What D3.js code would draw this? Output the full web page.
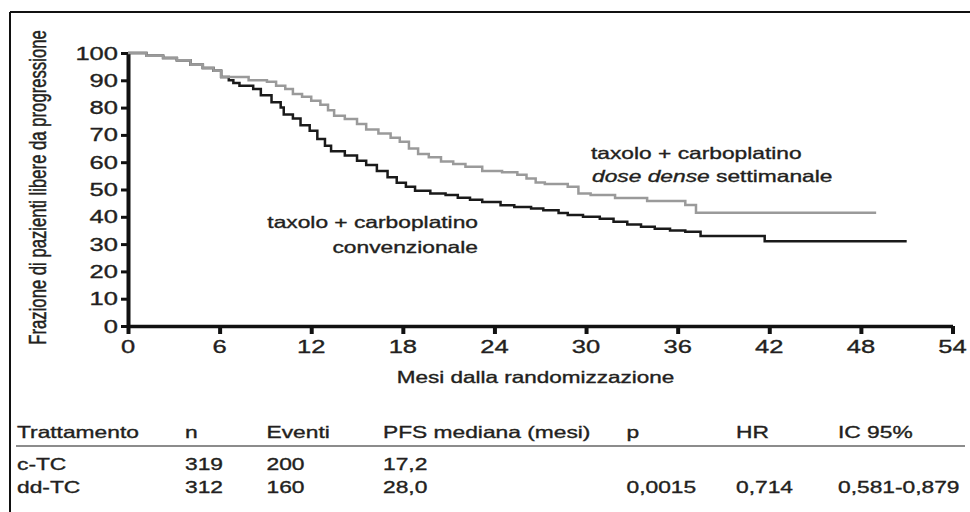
<!DOCTYPE html>
<html>
<head>
<meta charset="utf-8">
<script src="https://cdn.jsdelivr.net/npm/d3@7"></script>
<style>
  body { margin: 0; background: #fff; }
  svg text { font-family: "Liberation Sans", Arial, Helvetica, sans-serif; fill: #231f20; stroke: #231f20; stroke-width: 0.35px; }
</style>
</head>
<body>
<div id="chart"></div>
<script>
// Kaplan-Meier curves (months, % progression free)
var ddTime = [0, 1.2, 2.3, 3.2, 4.1, 4.9, 5.6, 6.1, 7.9, 9.1, 9.7, 10.3, 10.8, 11.4, 12.0, 12.6, 13.1, 13.5, 14.2, 15.0, 15.6, 16.4, 17.2, 17.8, 18.4, 19.0, 19.7, 20.5, 21.3, 22.1, 23.2, 24.5, 25.5, 26.1, 26.7, 27.3, 28.8, 29.5, 30.3, 31.9, 34.0, 36.5, 37.2, 49.0];
var ddSurv = [100, 99, 98.2, 97.3, 95.7, 94.5, 93.5, 91.2, 90, 89.5, 88, 86.8, 85, 84, 82.5, 81, 79, 77, 75.8, 74, 72, 70.5, 69, 67.5, 65, 63, 61.8, 60.3, 59.3, 58.3, 56.8, 56.3, 55.4, 54, 52.6, 52, 51, 48.5, 48, 46.9, 45.8, 44.3, 41.5, 41.5];

var cTime = [0, 1.2, 2.3, 3.2, 4.1, 4.9, 5.6, 6.1, 6.6, 6.9, 7.3, 8.2, 8.7, 9.4, 10.0, 10.2, 10.8, 11.3, 11.9, 12.4, 12.9, 13.3, 14.2, 15.0, 15.6, 16.3, 17.0, 17.6, 18.2, 18.8, 19.8, 20.8, 21.6, 22.4, 23.2, 24.4, 25.3, 26.4, 27.2, 28.2, 28.8, 29.8, 30.9, 31.8, 32.7, 33.6, 34.5, 35.5, 36.5, 37.5, 41.7, 51.0];
var cSurv = [100, 99, 98.2, 97.3, 95.7, 94.5, 93.5, 91.2, 90, 89, 88, 86.8, 84.5, 82, 80, 77.5, 76, 73.5, 71.5, 68.5, 66, 64, 62.5, 60.5, 59, 56.8, 54.5, 52.5, 51, 49.5, 48.5, 48, 47, 46.2, 45.4, 44.2, 43.6, 43, 42.4, 41.4, 40.7, 40, 39.3, 38.2, 37.2, 36.4, 35.6, 35, 34.5, 33, 31, 31];

var xTicks = [0, 6, 12, 18, 24, 30, 36, 42, 48, 54];
var yTicks = [0, 10, 20, 30, 40, 50, 60, 70, 80, 90, 100];

var tableHead = ["Trattamento", "n", "Eventi", "PFS mediana (mesi)", "p", "HR", "IC 95%"];
var rowCTC = ["c-TC", "319", "200", "17,2", "", "", ""];
var rowDDTC = ["dd-TC", "312", "160", "28,0", "0,0015", "0,714", "0,581-0,879"];

var W = 970, H = 512;
var SX = 1.38; // the picture is stretched sideways

var svg = d3.select("#chart").append("svg")
  .attr("width", W)
  .attr("height", H);

svg.append("rect").attr("width", W).attr("height", H).attr("fill", "#fff");

// frame (top and left only)
svg.append("line").attr("x1", 10).attr("x2", W).attr("y1", 12).attr("y2", 12)
  .attr("stroke", "#111").attr("stroke-width", 2);
svg.append("line").attr("x1", 10).attr("x2", 10).attr("y1", 12).attr("y2", H)
  .attr("stroke", "#111").attr("stroke-width", 2);

var x = d3.scaleLinear().domain([0, 54]).range([128, 952.5]);
var y = d3.scaleLinear().domain([0, 100]).range([326, 53]);

// stretched text helper
function label(txt, px, py, size, anchor, italic) {
  return svg.append("text")
    .attr("transform", "translate(" + px + "," + py + ") scale(" + SX + ",1)")
    .attr("text-anchor", anchor || "start")
    .style("font-size", size + "px")
    .style("font-style", italic ? "italic" : "normal")
    .text(txt);
}

// axes
var yAxis = svg.append("g")
  .attr("transform", "translate(" + x(0) + ",0)")
  .call(d3.axisLeft(y).tickValues(yTicks).tickSize(7).tickSizeOuter(0).tickFormat(""));
yAxis.select(".domain").attr("stroke", "#111").attr("stroke-width", 4);
yAxis.selectAll(".tick line").attr("stroke", "#111").attr("stroke-width", 3);

var xAxis = svg.append("g")
  .attr("transform", "translate(0," + y(0) + ")")
  .call(d3.axisBottom(x).tickValues(xTicks).tickSize(8).tickSizeOuter(0).tickFormat(""));
xAxis.select(".domain").attr("stroke", "#111").attr("stroke-width", 3.5);
xAxis.selectAll(".tick line").attr("stroke", "#111").attr("stroke-width", 4);

yTicks.forEach(function(t) {
  label(t, x(0) - 10, y(t) + 6.5, 18.5, "end");
});
xTicks.forEach(function(t) {
  label(t, x(t), 353, 18.5, "middle");
});

label("Mesi dalla randomizzazione", 535.5, 383, 16.3, "middle");

svg.append("text")
  .attr("transform", "translate(46," + ((30 + 345) / 2) + ") scale(" + SX + ",1) rotate(-90)")
  .attr("text-anchor", "middle")
  .style("font-size", "16.7px")
  .text("Frazione di pazienti libere da progressione");

// curves
var line = d3.line()
  .x(function(d) { return x(d[0]); })
  .y(function(d) { return y(d[1]); })
  .curve(d3.curveStepAfter);

svg.append("path")
  .datum(d3.zip(cTime, cSurv))
  .attr("fill", "none")
  .attr("stroke", "#1a1a1a")
  .attr("stroke-width", 2.5)
  .attr("d", line);

svg.append("path")
  .datum(d3.zip(ddTime, ddSurv))
  .attr("fill", "none")
  .attr("stroke", "#9a9a9a")
  .attr("stroke-width", 2.5)
  .attr("d", line);

// curve labels
label("taxolo + carboplatino", 591, 159, 16.5, "start");
var dd = svg.append("text")
  .attr("transform", "translate(592,182) scale(" + SX + ",1)")
  .style("font-size", "16.5px");
dd.append("tspan").style("font-style", "italic").text("dose dense");
dd.append("tspan").text(" settimanale");

label("taxolo + carboplatino", 478, 228, 16.5, "end");
label("convenzionale", 478, 253, 16.5, "end");

// table
var colX = [17, 185, 266.5, 383, 626.5, 736, 838];
tableHead.forEach(function(t, i) { label(t, colX[i], 438, 16.5, "start"); });
svg.append("line").attr("x1", 16).attr("x2", 965).attr("y1", 446).attr("y2", 446)
  .attr("stroke", "#666").attr("stroke-width", 1.5);
rowCTC.forEach(function(t, i) { if (t) label(t, colX[i], 470, 16.5, "start"); });
rowDDTC.forEach(function(t, i) { if (t) label(t, colX[i], 493, 16.5, "start"); });
</script>
</body>
</html>
